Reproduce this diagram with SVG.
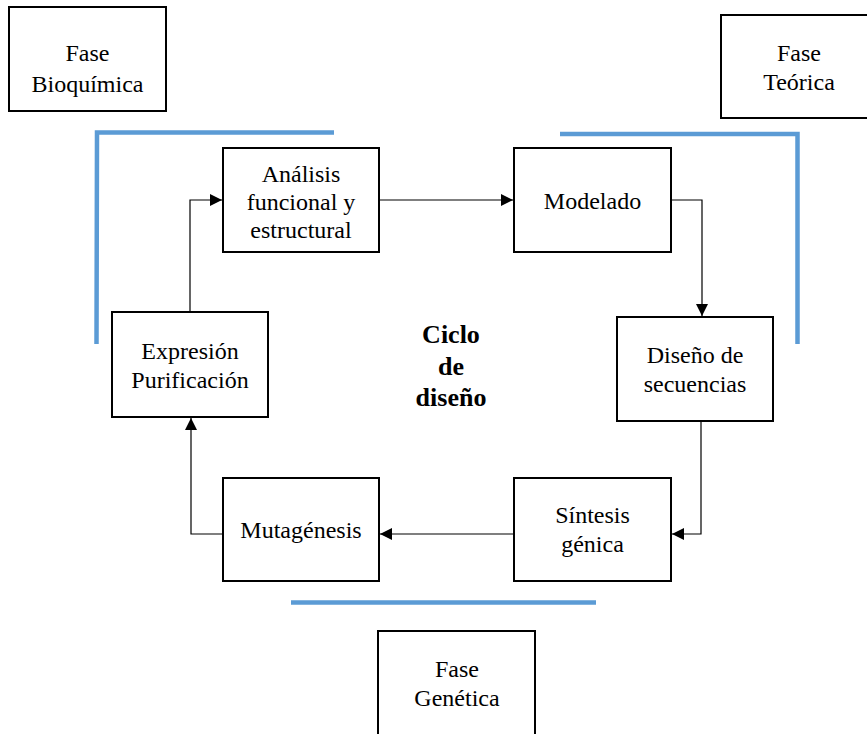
<svg xmlns="http://www.w3.org/2000/svg" width="867" height="734" viewBox="0 0 867 734">
<style>
.box{fill:#fff;stroke:#000;stroke-width:2}
.t{font-family:"Liberation Serif","Times New Roman",serif;font-size:24px;fill:#000;text-anchor:middle}
.b{font-weight:bold;font-size:26px}
.c{fill:none;stroke:#000;stroke-width:1.2}
.phase{fill:none;stroke:#5B9BD5;stroke-width:4.5}
</style>
<defs>
<marker id="ah" markerUnits="userSpaceOnUse" markerWidth="13" markerHeight="12" refX="12" refY="6" orient="auto">
<path d="M0,0 L12,6 L0,12 Z" fill="#000"/>
</marker>
</defs>
<rect width="867" height="734" fill="#fff"/>
<g id="phase-lines">
<polyline class="phase" points="96.5,344 97,132.5 334,132.5"/>
<polyline class="phase" points="560,134 797.5,134 797.5,344"/>
<line class="phase" x1="291" y1="602.5" x2="596" y2="602.5"/>
</g>
<g id="connectors">
<line class="c" x1="379" y1="200" x2="513" y2="200" marker-end="url(#ah)"/>
<polyline class="c" points="671,200 702,200 702,316" marker-end="url(#ah)"/>
<polyline class="c" points="701,421 701,534 672,534" marker-end="url(#ah)"/>
<line class="c" x1="514" y1="534" x2="380" y2="534" marker-end="url(#ah)"/>
<polyline class="c" points="223,534 191,534 191,418" marker-end="url(#ah)"/>
<polyline class="c" points="190,312 190,200 222,200" marker-end="url(#ah)"/>
</g>
<g id="fase-bioquimica">
<rect class="box" x="9" y="7" width="157" height="104"/>
<text class="t" x="87.5" y="61">Fase</text>
<text class="t" x="87.5" y="92">Bioquímica</text>
</g>
<g id="fase-teorica">
<rect class="box" x="721" y="15" width="150" height="103"/>
<text class="t" x="799" y="61">Fase</text>
<text class="t" x="799" y="90">Teórica</text>
</g>
<g id="fase-genetica">
<rect class="box" x="378" y="631" width="157" height="110"/>
<text class="t" x="457" y="677">Fase</text>
<text class="t" x="457" y="706">Genética</text>
</g>
<g id="analisis">
<rect class="box" x="223" y="148" width="156" height="104"/>
<text class="t" x="301" y="182">Análisis</text>
<text class="t" x="301" y="210">funcional y</text>
<text class="t" x="301" y="238">estructural</text>
</g>
<g id="modelado">
<rect class="box" x="514" y="148" width="157" height="104"/>
<text class="t" x="592.5" y="209">Modelado</text>
</g>
<g id="diseno">
<rect class="box" x="617" y="317" width="156" height="104"/>
<text class="t" x="695" y="363">Diseño de</text>
<text class="t" x="695" y="392">secuencias</text>
</g>
<g id="sintesis">
<rect class="box" x="514" y="478" width="157" height="103"/>
<text class="t" x="592.5" y="523">Síntesis</text>
<text class="t" x="592.5" y="552">génica</text>
</g>
<g id="mutagenesis">
<rect class="box" x="223" y="478" width="156" height="103"/>
<text class="t" x="301" y="538">Mutagénesis</text>
</g>
<g id="expresion">
<rect class="box" x="112" y="312" width="156" height="105"/>
<text class="t" x="190" y="359">Expresión</text>
<text class="t" x="190" y="388">Purificación</text>
</g>
<g id="ciclo">
<text class="t b" x="451" y="343">Ciclo</text>
<text class="t b" x="451" y="375">de</text>
<text class="t b" x="451" y="406">diseño</text>
</g>
</svg>
